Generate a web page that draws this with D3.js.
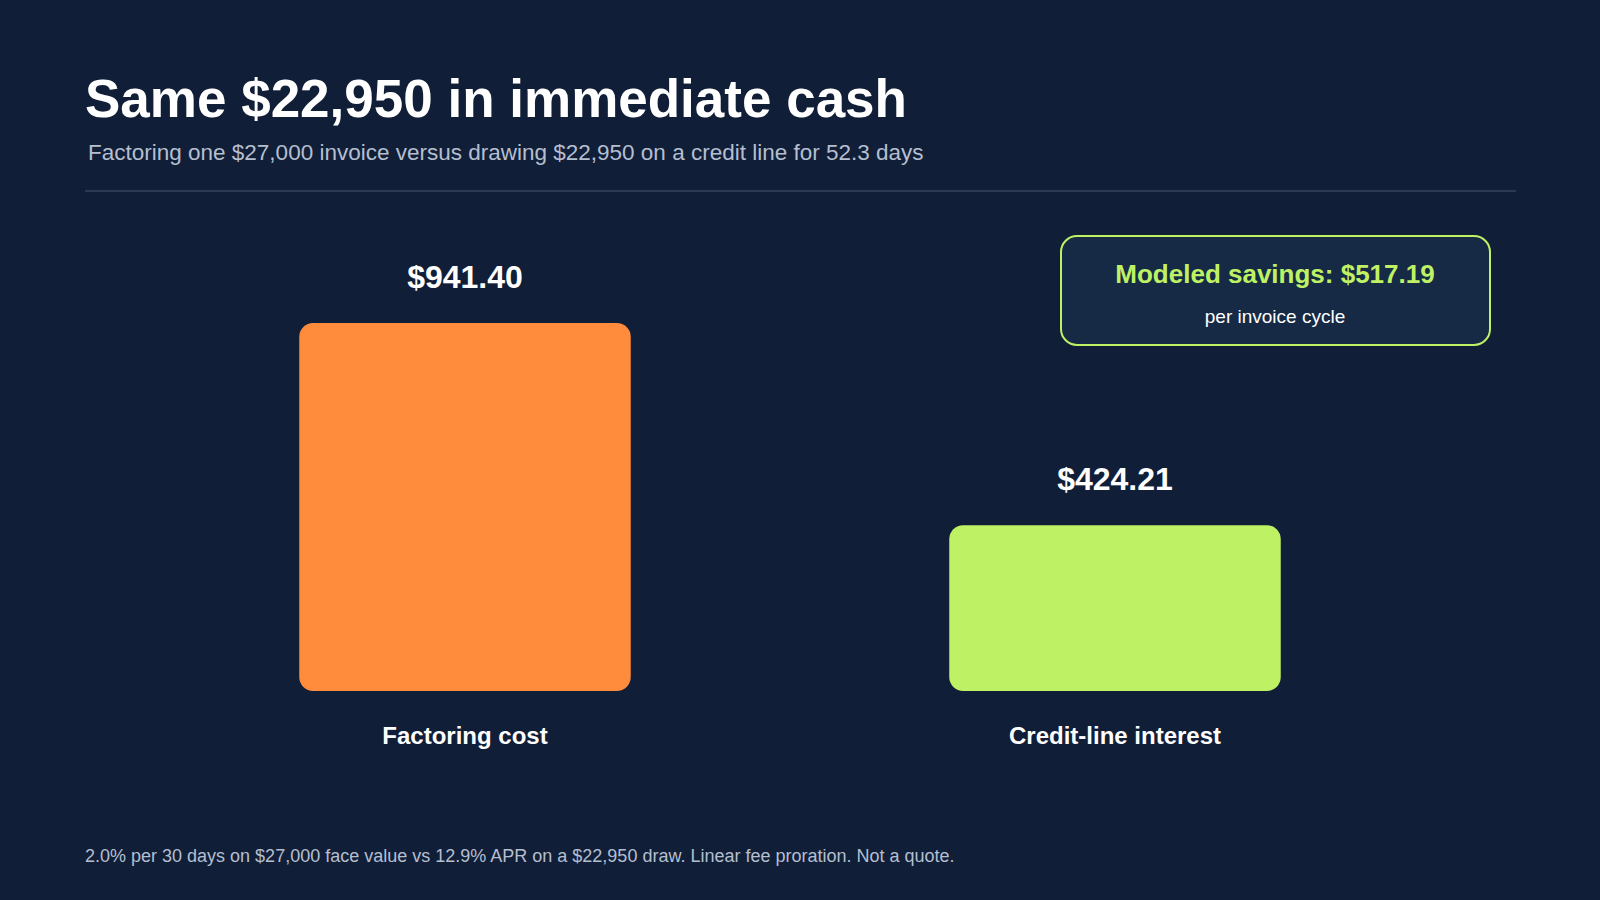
<!DOCTYPE html>
<html>
<head>
<meta charset="utf-8">
<title>Factoring vs credit line</title>
<style>
body { margin: 0; background: #111e37; }
svg { display: block; font-family: "Liberation Sans", Arial, sans-serif; }
</style>
</head>
<body>
<div id="graphic"></div>
<script src="https://cdn.jsdelivr.net/npm/d3@7"></script>
<script>
var categories = ["Factoring cost", "Credit-line interest"];
var values = [941.40, 424.21];
var colors = ["#ff8b3d", "#bef264"];
var labels = ["$941.40", "$424.21"];

var w = 1600, h = 900;
var svg = d3.select("#graphic").append("svg").attr("width", w).attr("height", h);

svg.append("rect").attr("width", w).attr("height", h).attr("fill", "#111e37");

svg.append("text").attr("x", 85).attr("y", 117)
    .attr("font-size", 53).attr("font-weight", "bold").attr("fill", "#ffffff")
    .text("Same $22,950 in immediate cash");
svg.append("text").attr("x", 88).attr("y", 160)
    .attr("font-size", 22.5).attr("fill", "#b4bfd0")
    .text("Factoring one $27,000 invoice versus drawing $22,950 on a credit line for 52.3 days");
svg.append("line").attr("x1", 85).attr("x2", 1516).attr("y1", 191).attr("y2", 191)
    .attr("stroke", "#34435d").attr("stroke-width", 1.5);

var x = d3.scaleBand().domain(categories).range([140, 1440]).padding(0);
var y = d3.scaleLinear().domain([0, 941.4]).range([691, 323]);
var bw = x.bandwidth() * 0.51;

var g = svg.append("g");
categories.forEach(function(c, i) {
    var cx = x(c) + x.bandwidth() / 2;
    g.append("rect")
        .attr("x", cx - bw / 2).attr("width", bw)
        .attr("y", y(values[i])).attr("height", y(0) - y(values[i]))
        .attr("rx", 14).attr("fill", colors[i]);
    g.append("text").attr("x", cx).attr("y", y(values[i]) - 35)
        .attr("text-anchor", "middle").attr("font-size", 32).attr("font-weight", "bold")
        .attr("fill", "#ffffff").text(labels[i]);
    g.append("text").attr("x", cx).attr("y", 744)
        .attr("text-anchor", "middle").attr("font-size", 24).attr("font-weight", "bold")
        .attr("fill", "#ffffff").text(c);
});

svg.append("rect").attr("x", 1061).attr("y", 236).attr("width", 429).attr("height", 109)
    .attr("rx", 16).attr("fill", "#172a45").attr("stroke", "#bef264").attr("stroke-width", 2);
svg.append("text").attr("x", 1275).attr("y", 283).attr("text-anchor", "middle")
    .attr("font-size", 26).attr("font-weight", "bold").attr("fill", "#bef264")
    .text("Modeled savings: $517.19");
svg.append("text").attr("x", 1275).attr("y", 323).attr("text-anchor", "middle")
    .attr("font-size", 19).attr("fill", "#ffffff")
    .text("per invoice cycle");

svg.append("text").attr("x", 85).attr("y", 862)
    .attr("font-size", 18).attr("fill", "#b4bfd0")
    .text("2.0% per 30 days on $27,000 face value vs 12.9% APR on a $22,950 draw. Linear fee proration. Not a quote.");
</script>
</body>
</html>
